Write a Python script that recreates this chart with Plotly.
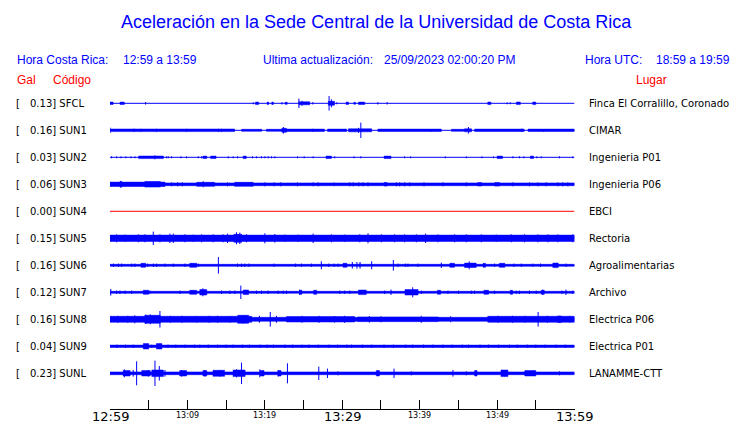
import plotly.graph_objects as go

# ---------------- data ----------------
codes = ["SFCL", "SUN1", "SUN2", "SUN3", "SUN4", "SUN5", "SUN6", "SUN7", "SUN8", "SUN9", "SUNL"]
gal = ["0.13", "0.16", "0.03", "0.06", "0.00", "0.15", "0.16", "0.12", "0.16", "0.04", "0.23"]
places = ["Finca El Corralillo, Coronado", "CIMAR", "Ingenieria P01", "Ingenieria P06", "EBCI",
          "Rectoria", "Agroalimentarias", "Archivo", "Electrica P06", "Electrica P01", "LANAMME-CTT"]
trace_colors = ["#0000ff"] * 4 + ["#ff0000"] + ["#0000ff"] * 6

# time axis: minutes after 12:59
tick_minutes = [0, 5, 10, 15, 20, 25, 30, 35, 40, 45, 50, 55, 60]
tick_labels = ["12:59", "", "13:09", "", "13:19", "", "13:29", "", "13:39", "", "13:49", "", "13:59"]
tick_big = [True, False, False, False, False, False, True, False, False, False, False, False, True]

# envelope segments (start min, end min, half amplitude) and spikes (min, half amplitude)
SFCL_blocks = [(0, 0.4, 1.2), (1.3, 1.85, 1.2), (18.8, 19.2, 1.3), (20.3, 20.5, 1.2), (20.9, 21.1, 1.2),
               (22.6, 22.9, 1.0), (24.4, 25.8, 1.5), (28.2, 29.0, 2.0), (30.5, 30.8, 1.2), (31.5, 31.7, 1.0),
               (32.1, 32.9, 1.2), (48.8, 49.2, 1.3), (52.5, 53.0, 1.3), (54.6, 55.0, 1.3)]
SFCL_spikes = [(4.6, 1.3), (18.5, 1.0), (22.2, 1.2), (24.4, 4.7), (24.8, 2.5), (26.2, 1.2), (28.3, 7.3),
               (28.6, 4.0), (29.3, 1.0), (34.6, 1.2), (35.8, 1.2), (51.3, 1.0), (51.7, 1.0)]

SUN1_blocks = [(0, 16.1, 1.3), (17.0, 19.6, 1.0), (20.2, 22.2, 1.0), (22.2, 22.8, 2.0), (22.8, 27.7, 1.2),
               (28.1, 30.5, 1.2), (30.8, 33.8, 1.5), (34.6, 42.8, 1.2), (44.1, 45.8, 1.0), (45.8, 46.7, 1.5),
               (47.1, 53.5, 1.2), (54.0, 60, 1.2)]
SUN1_spikes = [(0.0, 2.7), (3.1, 1.7), (4.0, 1.5), (6.0, 1.5), (9.9, 1.5), (14.0, 1.5), (14.4, 1.5),
               (22.4, 3.3), (26.2, 1.5), (30.5, 1.5), (32.4, 7.7), (32.1, 2.5), (41.5, 1.3), (46.3, 3.3),
               (53.2, 1.7), (56.0, 1.3)]

SUN2_blocks = [(3.7, 6.9, 1.3), (12.0, 12.5, 1.2), (13.0, 13.7, 1.2), (17.2, 17.6, 1.2), (27.9, 28.6, 1.2),
               (35.4, 36.3, 1.2), (50.0, 50.7, 1.2), (54.3, 54.7, 1.2)]
SUN2_spikes = [(5.8, 2.0), (0.2, 1.0), (0.86, 1.0), (1.42, 1.0), (2.06, 1.0), (2.71, 1.0), (3.23, 1.0),
               (7.31, 1.0), (7.53, 1.0), (7.96, 1.0), (9.16, 1.0), (9.89, 1.0), (11.4, 1.0), (11.83, 1.0),
               (15.27, 1.0), (15.91, 1.0), (16.47, 1.0), (18.41, 1.0), (18.92, 1.0), (19.57, 1.0),
               (20.0, 1.0), (20.43, 1.0), (20.86, 1.0), (21.29, 1.0), (24.22, 1.0), (25.08, 1.0),
               (26.24, 1.0), (29.03, 1.0), (31.53, 1.0), (32.39, 1.0), (38.06, 1.0), (38.84, 1.0),
               (43.31, 1.0), (46.02, 1.0), (48.04, 1.0), (49.55, 1.0), (52.04, 1.0), (52.9, 1.0),
               (53.46, 1.0), (55.14, 1.0), (55.7, 1.0), (58.06, 1.0), (59.78, 1.0)]

SUN3_blocks = [(0, 60, 1.4), (0, 7.1, 2.2), (1.3, 1.5, 3.0), (4.5, 6.5, 2.8), (11.2, 13.5, 2.0),
               (16.1, 18.5, 2.0), (35.4, 35.8, 1.8), (47.5, 48.0, 1.7), (49.7, 50.3, 1.8)]
SUN3_spikes = [(12.04, 3.0), (28.95, 1.8), (7.96, 2.0), (8.73, 2.0), (9.33, 2.0), (15.18, 2.0), (20.0, 2.0),
               (21.2, 2.0), (22.06, 2.0), (24.22, 2.0), (26.24, 2.0), (26.88, 2.0), (30.97, 2.0),
               (31.4, 2.0), (32.13, 2.0), (32.69, 2.0), (33.33, 2.0), (36.99, 2.0), (37.42, 2.0),
               (38.06, 2.0), (38.71, 2.0), (40.56, 2.0), (43.01, 2.0), (46.02, 2.0), (52.04, 2.0),
               (54.19, 2.0), (55.27, 2.0), (56.34, 2.0), (57.85, 2.0), (58.49, 2.0), (59.14, 2.0)]

SUN4_blocks = []
SUN4_spikes = []

SUN5_blocks = [(0, 60, 3.2), (16.0, 17.0, 4.0)]
SUN5_spikes = [(0.86, 4.0), (1.94, 3.7), (3.66, 4.0), (4.52, 4.0), (5.59, 6.7), (6.45, 4.0), (7.74, 4.7),
               (8.17, 4.7), (9.68, 4.0), (10.75, 3.7), (11.83, 4.0), (13.33, 4.0), (14.62, 4.0),
               (15.18, 4.7), (16.34, 6.0), (16.77, 5.7), (17.63, 4.0), (20.0, 5.0), (21.29, 4.3),
               (22.58, 3.7), (24.3, 3.7), (26.24, 4.7), (28.6, 4.0), (30.32, 3.7), (32.26, 4.0),
               (33.33, 5.0), (35.05, 4.0), (36.77, 4.0), (38.06, 4.0), (39.57, 4.0), (40.77, 4.7),
               (42.37, 4.0), (44.52, 4.0), (46.02, 4.0), (47.96, 4.0), (49.89, 3.7), (51.83, 4.0),
               (53.55, 4.0), (55.27, 4.0), (56.56, 4.0), (57.85, 4.0), (59.78, 4.0)]

SUN6_blocks = [(0, 60, 1.0), (4.0, 4.6, 2.0), (10.3, 11.2, 2.0), (30.1, 30.6, 2.0), (43.9, 44.5, 2.0),
               (45.8, 47.3, 2.2), (48.2, 48.5, 2.0), (50.3, 51.0, 2.0), (57.2, 57.9, 2.3)]
SUN6_spikes = [(14.0, 8.3), (27.3, 4.0), (36.6, 5.3), (46.4, 4.0), (31.3, 3.3), (31.9, 3.3), (32.3, 3.3),
               (33.8, 4.0), (42.8, 2.7), (0.43, 1.7), (1.08, 1.7), (1.5, 1.7), (2.8, 1.7), (3.23, 1.7),
               (4.86, 1.7), (5.59, 1.7), (6.02, 1.7), (7.1, 1.7), (8.17, 1.7), (9.68, 1.7), (10.62, 1.7),
               (11.4, 1.7), (16.47, 1.7), (16.99, 1.7), (17.42, 1.7), (17.94, 1.7), (21.2, 1.7),
               (23.96, 1.7), (24.73, 1.7), (26.02, 1.7), (28.26, 1.7), (28.95, 1.7), (29.46, 1.7),
               (32.26, 1.7), (37.2, 1.7), (38.15, 1.7), (38.49, 1.7), (39.78, 1.7), (49.68, 1.7),
               (52.17, 1.7), (53.12, 1.7), (54.62, 1.7), (55.61, 1.7), (58.92, 1.7)]

SUN7_blocks = [(0, 60, 1.0), (4.3, 5.0, 2.0), (10.3, 11.2, 2.0), (11.6, 12.5, 2.7), (17.2, 17.9, 2.3),
               (24.5, 24.8, 2.0), (26.3, 26.7, 2.0), (32.1, 33.1, 2.3), (38.1, 39.8, 2.7), (42.3, 42.7, 2.0),
               (48.3, 48.9, 2.0), (51.7, 52.0, 2.0), (55.7, 56.1, 2.0)]
SUN7_spikes = [(16.9, 6.7), (0.1, 3.3), (12.0, 4.0), (39.1, 5.0), (36.3, 2.7), (24.5, 2.7), (55.9, 2.7),
               (58.9, 2.7), (0.86, 1.7), (1.29, 1.7), (1.94, 1.7), (2.8, 1.7), (5.16, 1.7), (9.03, 1.7),
               (14.41, 1.7), (15.48, 1.7), (16.13, 1.7), (18.92, 1.7), (19.57, 1.7), (20.43, 1.7),
               (21.72, 1.7), (22.37, 1.7), (22.8, 1.7), (29.68, 1.7), (30.32, 1.7), (30.97, 1.7),
               (35.48, 1.7), (40.22, 1.7), (43.66, 1.7), (45.03, 1.7), (46.67, 1.7), (47.1, 1.7),
               (49.68, 1.7), (52.47, 1.7), (52.9, 1.7), (54.19, 1.7), (55.05, 1.7), (58.37, 1.7), (59.78, 1.7)]

SUN8_blocks = [(0, 60, 2.0), (0, 18.3, 3.0), (4.5, 6.5, 4.0), (16.5, 17.9, 4.0), (22.8, 31.6, 2.7),
               (32.0, 42.4, 2.3), (48.8, 60, 3.0), (57.8, 58.3, 3.3)]
SUN8_spikes = [(6.45, 8.3), (5.2, 5.0), (4.6, 4.7), (3.2, 4.0), (11.2, 3.3), (15.5, 3.3), (20.7, 7.3),
               (17.2, 4.3), (24.8, 3.5), (29.0, 3.3), (33.5, 3.3), (35.0, 3.0), (55.3, 7.3), (56.5, 3.5),
               (58.1, 3.5), (1.0, 3.5), (2.3, 3.5), (7.8, 3.5), (9.3, 3.5), (12.8, 3.5), (13.9, 3.5),
               (19.3, 3.5), (21.5, 3.5), (27.0, 3.5), (30.3, 3.5), (40.2, 3.5), (44.0, 3.0), (50.1, 3.5),
               (52.0, 3.5), (53.6, 3.5), (59.4, 3.5)]

SUN9_blocks = [(0, 60, 1.2), (4.3, 5.0, 2.7), (6.0, 6.7, 2.7)]
SUN9_spikes = [(5.4, 1.7), (0.9, 1.7), (2.0, 1.7), (3.0, 1.7), (7.5, 1.7), (8.5, 1.7), (9.7, 1.7),
               (10.9, 1.7), (11.6, 1.7), (12.7, 1.7), (13.9, 1.7), (15.0, 1.7), (15.9, 1.7), (17.1, 1.7),
               (18.0, 1.7), (19.4, 1.7), (20.3, 1.7), (21.1, 1.7), (22.6, 1.7), (23.6, 1.7), (24.8, 1.7),
               (25.7, 1.7), (26.9, 1.7), (28.3, 1.7), (29.4, 1.7), (30.6, 1.7), (31.2, 1.7), (32.6, 1.7),
               (33.8, 1.7), (35.4, 1.7), (36.6, 1.7), (38.2, 1.7), (39.1, 1.7), (40.5, 1.7), (41.7, 1.7),
               (43.0, 1.7), (44.2, 1.7), (45.5, 1.7), (46.3, 1.7), (47.8, 1.7), (48.9, 1.7), (50.2, 1.7),
               (51.6, 1.7), (52.6, 1.7), (53.9, 1.7), (55.0, 1.7), (56.2, 1.7), (57.6, 1.7), (58.8, 1.7)]

SUNL_blocks = [(0, 60, 1.4), (1.7, 2.6, 2.7), (4.1, 5.2, 2.7), (5.4, 6.9, 3.3), (9.0, 9.9, 2.7),
               (12.0, 12.5, 2.7), (13.3, 14.8, 3.0), (15.9, 17.4, 3.3), (19.4, 19.9, 2.7), (21.7, 22.1, 2.7),
               (34.4, 34.8, 2.7), (47.1, 47.4, 2.7), (50.5, 51.4, 3.3), (53.6, 55.0, 2.7)]
SUNL_spikes = [(3.44, 12.0), (5.81, 12.7), (6.37, 7.3), (1.85, 4.0), (3.0, 3.3), (4.95, 3.3), (7.1, 3.3),
               (9.25, 3.3), (12.26, 3.3), (14.19, 3.3), (16.34, 4.0), (16.99, 10.7), (17.42, 3.3),
               (19.35, 4.0), (21.72, 3.3), (22.92, 10.0), (26.97, 6.7), (28.09, 4.7), (29.46, 2.0),
               (34.62, 2.7), (36.69, 4.7), (38.92, 2.0), (44.3, 3.3), (46.02, 2.0), (47.31, 2.7),
               (50.97, 3.3), (53.63, 2.7), (54.62, 2.7), (58.06, 2.0)]

all_blocks = [SFCL_blocks, SUN1_blocks, SUN2_blocks, SUN3_blocks, SUN4_blocks, SUN5_blocks,
              SUN6_blocks, SUN7_blocks, SUN8_blocks, SUN9_blocks, SUNL_blocks]
all_spikes = [SFCL_spikes, SUN1_spikes, SUN2_spikes, SUN3_spikes, SUN4_spikes, SUN5_spikes,
              SUN6_spikes, SUN7_spikes, SUN8_spikes, SUN9_spikes, SUNL_spikes]

# ---------------- layout constants ----------------
W, H = 740, 423
ROW0, ROW_STEP = 103.3, 27.0      # pixel centre of first trace row, spacing
X0, X1 = 110, 574.5               # plot area in px
YTOP, YBOT = 90, 409
T_START, T_END = 0, 60

BLUE = "#0000ff"
RED = "#ff0000"


def px(x, y):
    return x / W, 1 - y / H


fig = go.Figure()

for i, code in enumerate(codes):
    yc = -(ROW0 + ROW_STEP * i)
    col = trace_colors[i]
    # base line
    fig.add_trace(go.Scatter(x=[T_START, T_END], y=[yc, yc], mode="lines",
                             line=dict(color=col, width=1), hoverinfo="skip"))
    # envelope blocks
    bx, by = [], []
    for t0, t1, a in all_blocks[i]:
        bx += [t0, t1, t1, t0, t0, None]
        by += [yc - a, yc - a, yc + a, yc + a, yc - a, None]
    if bx:
        fig.add_trace(go.Scatter(x=bx, y=by, mode="lines", fill="toself", fillcolor=col,
                                 line=dict(color=col, width=0.5), hoverinfo="skip"))
    # spikes
    sx, sy = [], []
    for t, a in all_spikes[i]:
        sx += [t, t, None]
        sy += [yc - a, yc + a, None]
    if sx:
        fig.add_trace(go.Scatter(x=sx, y=sy, mode="lines",
                                 line=dict(color=col, width=1), hoverinfo="skip"))

annotations = []


def txt(x, y, s, size, color, family, xanchor="left"):
    ax, ay = px(x, y)
    annotations.append(dict(x=ax, y=ay, xref="paper", yref="paper", text=s, showarrow=False,
                            xanchor=xanchor, yanchor="middle",
                            font=dict(size=size, color=color, family=family)))


ARIAL = "Liberation Sans, Arial, sans-serif"
DEJAVU = "DejaVu Sans, sans-serif"

txt(376, 22, "Aceleración en la Sede Central de la Universidad de Costa Rica", 18, BLUE, ARIAL, "center")
txt(15, 60, "Hora Costa Rica:", 12, BLUE, ARIAL)
txt(121, 60, "12:59 a 13:59", 12, BLUE, ARIAL)
txt(261, 60, "Ultima actualización:", 12, BLUE, ARIAL)
txt(382, 60, "25/09/2023 02:00:20 PM", 12, BLUE, ARIAL)
txt(583, 60, "Hora UTC:", 12, BLUE, ARIAL)
txt(654, 60, "18:59 a 19:59", 12, BLUE, ARIAL)
txt(15, 80, "Gal", 12, RED, ARIAL)
txt(51, 80, "Código", 12, RED, ARIAL)
txt(634, 80, "Lugar", 12, RED, ARIAL)

for i, code in enumerate(codes):
    yrow = ROW0 + ROW_STEP * i
    txt(14, yrow, "[", 10, "black", DEJAVU)
    txt(27.5, yrow, gal[i] + "] " + code, 10, "black", DEJAVU)
    txt(587, yrow, places[i], 10, "black", DEJAVU)

# tick labels
for t, lab, big in zip(tick_minutes, tick_labels, tick_big):
    if not lab:
        continue
    annotations.append(dict(x=t, y=1 - (416 if big else 415.5) / H, xref="x", yref="paper", text=lab,
                            showarrow=False, xanchor="center", yanchor="middle",
                            font=dict(size=13 if big else 8, color="black", family=DEJAVU)))

fig.update_layout(
    width=W, height=H, margin=dict(l=0, r=0, t=0, b=0),
    paper_bgcolor="white", plot_bgcolor="white", showlegend=False,
    annotations=annotations,
    xaxis=dict(domain=[X0 / W, X1 / W], range=[T_START, T_END], showgrid=False, zeroline=False,
               showline=True, linecolor="black", linewidth=1, ticks="inside", ticklen=9,
               tickwidth=1, tickcolor="black", tickvals=tick_minutes, showticklabels=False),
    yaxis=dict(domain=[(H - YBOT) / H, (H - YTOP) / H], range=[-YBOT, -YTOP], visible=False,
               showgrid=False, zeroline=False),
)

fig.write_html("out.html", config={"displayModeBar": False},
               post_script="document.body.style.margin='0px';document.body.style.overflow='hidden';")
